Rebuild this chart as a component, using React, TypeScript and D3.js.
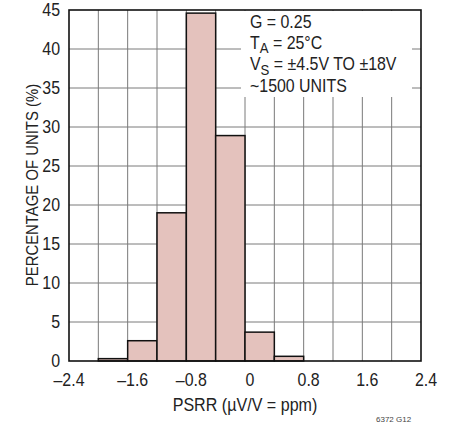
import React from "react";
import * as d3 from "d3";

const binStarts = [-2.0, -1.6, -1.2, -0.8, -0.4, 0.0, 0.4];
const binWidth = 0.4;
const percentages = [0.3, 2.6, 19.0, 44.6, 28.9, 3.7, 0.6];
const xTicks = [-2.4, -1.6, -0.8, 0, 0.8, 1.6, 2.4];
const xGrid = d3.range(-2.4, 2.41, 0.4).map((v) => +v.toFixed(1));
const yTicks = [0, 5, 10, 15, 20, 25, 30, 35, 40, 45];
const notes = ["G = 0.25", "T|A| = 25°C", "V|S| = ±4.5V TO ±18V", "~1500 UNITS"];

const W = 451;
const H = 423;
const L = 69, R = 421, T = 10, B = 361;
const FONT = "'Liberation Sans', Arial, Helvetica, sans-serif";
const SX = 0.91;

const fmt = (v: number) => (v < 0 ? "\u2013" + Math.abs(v).toFixed(1) : v === 0 ? "0" : v.toFixed(1));

function Txt({ x, y, rot = 0, sx = SX, children, ...rest }: any) {
  return (
    <text transform={`translate(${x},${y}) rotate(${rot}) scale(${sx},1)`} fill="#222" {...rest}>
      {children}
    </text>
  );
}

export default function App() {
  const x = d3.scaleLinear().domain([-2.4, 2.4]).range([L, R]);
  const y = d3.scaleLinear().domain([0, 45]).range([B, T]);
  const boxX0 = 241, boxX1 = 412, boxY1 = 97;

  return (
    <svg width={W} height={H} style={{ position: "absolute", left: 0, top: 0, background: "#fff" }} fontFamily={FONT}>
      <rect x={0} y={0} width={W} height={H} fill="#fff" />
      {/* grid */}
      {xGrid.slice(1, -1).map((v) => (
        <line key={"gx" + v} x1={x(v)} x2={x(v)} y1={B} y2={T} stroke="#7a7a7a" strokeWidth={1} />
      ))}
      {yTicks.slice(1, -1).map((v) => (
        <line key={"gy" + v} x1={L} x2={R} y1={y(v)} y2={y(v)} stroke="#7a7a7a" strokeWidth={1} />
      ))}
      {/* annotation box backdrop */}
      <rect x={boxX0} y={T + 1} width={boxX1 - boxX0} height={boxY1 - T - 1} fill="#fff" />
      {/* bars */}
      {binStarts.map((s, i) => (
        <rect
          key={"b" + i}
          x={x(s)}
          y={y(percentages[i])}
          width={x(s + binWidth) - x(s)}
          height={B - y(percentages[i])}
          fill="#e4c2bd"
          stroke="#111"
          strokeWidth={1.5}
        />
      ))}
      {/* frame */}
      <rect x={L} y={T} width={R - L} height={B - T} fill="none" stroke="#111" strokeWidth={1.6} />
      {/* y tick labels */}
      {yTicks.map((v) => (
        <Txt key={"yl" + v} x={60} y={y(v) + 6.2} textAnchor="end" fontSize={17.5}>
          {v}
        </Txt>
      ))}
      {/* x tick labels */}
      {xTicks.map((v, i) => (
        <Txt key={"xl" + v} x={x(v) + (i === 0 ? 0 : 5)} y={385.5} textAnchor="middle" fontSize={17.5}>
          {fmt(v)}
        </Txt>
      ))}
      {/* axis titles */}
      <Txt x={245} y={411} textAnchor="middle" fontSize={17.5} sx={0.92}>
        PSRR (µV/V = ppm)
      </Txt>
      <Txt x={37.5} y={185} rot={-90} textAnchor="middle" fontSize={16.2} sx={0.92}>
        PERCENTAGE OF UNITS (%)
      </Txt>
      {/* notes */}
      {notes.map((n, i) => {
        const parts = n.split("|");
        return (
          <Txt key={"n" + i} x={250} y={27.5 + i * 21.4} fontSize={17.5}>
            {parts.length === 1 ? (
              parts[0]
            ) : (
              <>
                <tspan>{parts[0]}</tspan>
                <tspan dy={4.5} fontSize={14.5}>{parts[1]}</tspan>
                <tspan dy={-4.5}>{parts[2]}</tspan>
              </>
            )}
          </Txt>
        );
      })}
      <Txt x={376} y={422} fontSize={8} sx={1} fill="#444">6372 G12</Txt>
    </svg>
  );
}
